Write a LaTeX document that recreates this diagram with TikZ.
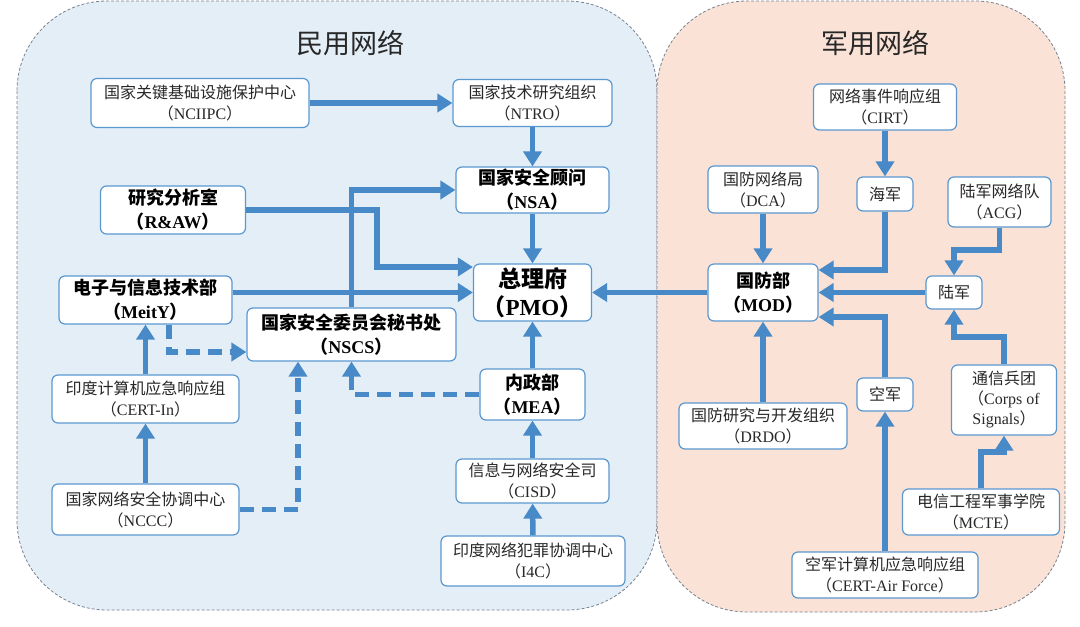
\documentclass[tikz,border=0pt]{standalone}
\usepackage{fontspec}
\usepackage{tikz}
\usetikzlibrary{arrows.meta}
\setmainfont{Liberation Serif}
\newfontfamily\cjk{Noto Sans CJK SC}
\newcommand{\abbr}[1]{{\cjk （}#1{\cjk ）}}

\definecolor{linkblue}{RGB}{72,137,199}
\definecolor{boxline}{RGB}{91,152,208}
\definecolor{civilfill}{RGB}{227,238,247}
\definecolor{milfill}{RGB}{250,226,214}
\definecolor{regionline}{RGB}{120,130,145}
\definecolor{textgray}{RGB}{40,40,40}

\tikzset{
    box/.style={draw=boxline, fill=white, line width=1.2pt, rounded corners=6pt,
        align=center, inner sep=1pt, text=textgray, font=\fontsize{16}{21}\selectfont},
    keybox/.style={box, text=black, font=\fontsize{18}{24}\selectfont\bfseries},
    wh/.style 2 args={minimum width=#1pt, minimum height=#2pt},
    link/.style={draw=linkblue, line width=5.5pt, -{Triangle[width=18pt, length=15pt]}},
    dashlink/.style={link, dash pattern=on 14pt off 8pt},
    region/.style={draw=regionline, line width=0.8pt, dash pattern=on 3pt off 2pt,
        rounded corners=90pt},
    heading/.style={text=textgray, font=\fontsize{27}{30}\selectfont\cjk},
}

\begin{document}
\begin{tikzpicture}[x=1pt, y=-1pt]
    \useasboundingbox (0,0) rectangle (1080,627);
    \draw[region, fill=civilfill] (17,1) rectangle (657,610);
    \draw[region, fill=milfill] (657,1) rectangle (1065,612);
    \node[heading] (civil) at (350,43) {民用网络};
    \node[heading] (military) at (875,43) {军用网络};

    % civil side
    \node[box, wh={218}{49}] (nciipc) at (200,103)
        {{\cjk 国家关键基础设施保护中心}\\\abbr{NCIIPC}};
    \node[box, wh={159}{47}] (ntro) at (532.5,103)
        {{\cjk 国家技术研究组织}\\\abbr{NTRO}};
    \node[keybox, wh={153}{46}] (nsa) at (532.5,190)
        {{\cjk 国家安全顾问}\\\abbr{NSA}};
    \node[keybox, wh={145}{48}] (raw) at (173,210)
        {{\cjk 研究分析室}\\\abbr{R\&AW}};
    \node[keybox, wh={118}{57}, font=\fontsize{23}{28}\selectfont\bfseries] (pmo)
        at (532.5,292.5) {{\cjk 总理府}\\\abbr{PMO}};
    \node[keybox, wh={173}{48}] (meity) at (145.5,300)
        {{\cjk 电子与信息技术部}\\\abbr{MeitY}};
    \node[keybox, wh={209}{53}] (nscs) at (351.5,334.5)
        {{\cjk 国家安全委员会秘书处}\\\abbr{NSCS}};
    \node[box, wh={187}{48}] (certin) at (145.5,399)
        {{\cjk 印度计算机应急响应组}\\\abbr{CERT-In}};
    \node[keybox, wh={105}{51}] (mea) at (532.5,394.5)
        {{\cjk 内政部}\\\abbr{MEA}};
    \node[box, wh={153}{44}] (cisd) at (532.5,481)
        {{\cjk 信息与网络安全司}\\\abbr{CISD}};
    \node[box, wh={187}{51}] (nccc) at (145.5,509.5)
        {{\cjk 国家网络安全协调中心}\\\abbr{NCCC}};
    \node[box, wh={184}{50}] (i4c) at (533,561)
        {{\cjk 印度网络犯罪协调中心}\\\abbr{I4C}};

    % military side
    \node[box, wh={143}{46}] (cirt) at (885,107)
        {{\cjk 网络事件响应组}\\\abbr{CIRT}};
    \node[box, wh={110}{47}] (dca) at (763,189.5)
        {{\cjk 国防网络局}\\\abbr{DCA}};
    \node[box, wh={56}{34}] (navy) at (885,194) {\cjk 海军};
    \node[box, wh={103}{50}] (acg) at (999.5,202)
        {{\cjk 陆军网络队}\\\abbr{ACG}};
    \node[keybox, wh={110}{57}] (mod) at (763,292.5)
        {{\cjk 国防部}\\\abbr{MOD}};
    \node[box, wh={56}{33}] (army) at (954,292.5) {\cjk 陆军};
    \node[box, wh={168}{46}] (drdo) at (763,426)
        {{\cjk 国防研究与开发组织}\\\abbr{DRDO}};
    \node[box, wh={56}{33}] (airforce) at (885,394.5) {\cjk 空军};
    \node[box, wh={105}{70}, font=\fontsize{16}{20}\selectfont] (signals) at (1004,400)
        {{\cjk 通信兵团}\\{\cjk （}Corps of\\Signals{\cjk ）}};
    \node[box, wh={157}{46}] (mcte) at (981,512)
        {{\cjk 电信工程军事学院}\\\abbr{MCTE}};
    \node[box, wh={186}{46}] (certaf) at (885,575)
        {{\cjk 空军计算机应急响应组}\\\abbr{CERT-Air Force}};

    \coordinate (b0) at (377,267);
    \coordinate (b1) at (169,352);
    \coordinate (b2) at (298,508);
    \coordinate (b4) at (885,270);
    \coordinate (b5) at (885,317);
    \coordinate (b6) at (954,250);
    \coordinate (b7) at (954,337);
    \coordinate (b8) at (1004,452);

    \draw[link] (nciipc) -- (ntro);
    \draw[link] (ntro) -- (nsa);
    \draw[link] (nsa) -- (pmo);
    \draw[link] (raw) -| (b0) -- (b0 -| pmo.west);
    \draw[link] (meity.east |- pmo) -- (pmo);
    \draw[link] (nscs) |- (nsa);
    \draw[link] (mea) -- (pmo);
    \draw[link] (cisd) -- (mea);
    \draw[link] (i4c) -- (cisd);
    \draw[link] (certin) -- (meity);
    \draw[link] (nccc) -- (certin);
    \draw[dashlink] (meity.south -| b1) |- (nscs.west |- b1);
    \draw[dashlink] (nccc) -| (nscs.south -| b2);
    \draw[dashlink] (mea) -| (nscs.south);

    \draw[link] (mod) -- (pmo);
    \draw[link] (dca) -- (mod);
    \draw[link] (drdo) -- (mod);
    \draw[link] (cirt) -- (navy);
    \draw[link] (navy) |- (mod.east |- b4);
    \draw[link] (army) -- (mod);
    \draw[link] (airforce) |- (mod.east |- b5);
    \draw[link] (certaf) -- (airforce);
    \draw[link] (acg) |- (b6) -- (army);
    \draw[link] (signals) |- (b7) -- (army);
    \draw[link] (mcte) |- (b8) -- (signals);
\end{tikzpicture}
\end{document}
